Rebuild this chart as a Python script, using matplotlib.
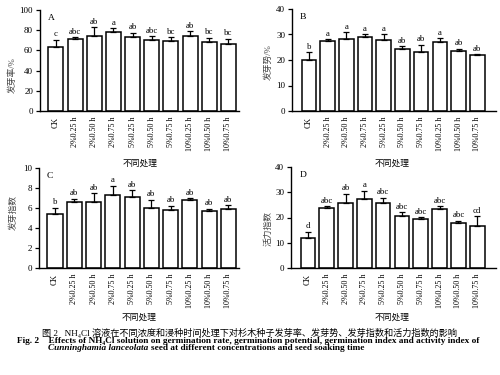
import matplotlib
matplotlib.use('Agg')
import matplotlib.pyplot as plt
import numpy as np

plt.rcParams['font.family'] = ['Liberation Serif', 'Noto Sans CJK SC', 'DejaVu Sans']
plt.rcParams['axes.unicode_minus'] = False

# 处理组
treatments = ['CK', '2%0.25 h', '2%0.50 h', '2%0.75 h', '5%0.25 h', '5%0.50 h',
              '5%0.75 h', '10%0.25 h', '10%0.50 h', '10%0.75 h']

# A 发芽率
rate_mean = [63.5, 71, 74, 78, 73, 70, 69, 74.5, 68, 66.5]
rate_err = [7, 2, 9, 4, 4.5, 4, 4, 4.5, 4.5, 5]
rate_sig = ['c', 'abc', 'ab', 'a', 'ab', 'abc', 'bc', 'ab', 'bc', 'bc']

# B 发芽势
pot_mean = [20, 27.5, 28.3, 29, 28, 24.3, 23, 27.2, 23.5, 22]
pot_err = [3, 0.7, 2.5, 1, 2, 1, 3, 1.3, 1, 0.3]
pot_sig = ['b', 'a', 'a', 'a', 'a', 'ab', 'ab', 'a', 'ab', 'ab']

# C 发芽指数
gi_mean = [5.45, 6.65, 6.6, 7.35, 7.1, 6.05, 5.85, 6.8, 5.75, 5.9]
gi_err = [0.6, 0.3, 0.9, 0.9, 0.7, 0.8, 0.4, 0.2, 0.2, 0.4]
gi_sig = ['b', 'ab', 'ab', 'a', 'ab', 'ab', 'ab', 'ab', 'ab', 'ab']

# D 活力指数
vi_mean = [11.8, 23.8, 25.6, 27.2, 25.6, 20.4, 19.5, 23.3, 17.8, 16.5]
vi_err = [2.5, 0.7, 3.8, 3.3, 2.2, 1.6, 0.6, 1.1, 1.0, 4.0]
vi_sig = ['d', 'abc', 'ab', 'a', 'abc', 'abc', 'abc', 'abc', 'abc', 'cd']

# (标签, y轴名, 均值, 误差, 显著性, y上限, 步长, 位置, xlim, ylabel坐标, xlabel位置)
panels = [
    ('A', '发芽率/%', rate_mean, rate_err, rate_sig, 100, 20,
     [0.080, 0.704, 0.398, 0.269], (-0.83, 9.55), (-0.115, 0.36), (0.280, 0.565)),
    ('B', '发芽势/%', pot_mean, pot_err, pot_sig, 40, 10,
     [0.584, 0.704, 0.408, 0.272], (-0.9, 10.0), (-0.095, 0.48), (0.784, 0.565)),
    ('C', '发芽指数', gi_mean, gi_err, gi_sig, 10, 2,
     [0.078, 0.285, 0.400, 0.267], (-0.83, 9.55), (-0.105, 0.56), (0.278, 0.152)),
    ('D', '活力指数', vi_mean, vi_err, vi_sig, 40, 10,
     [0.582, 0.285, 0.410, 0.270], (-0.9, 10.0), (-0.092, 0.39), (0.784, 0.152)),
]

fig = plt.figure(figsize=(5, 3.75), dpi=100)

for tag, ylab, mean, err, sig, ymax, step, pos, xl, ylc, xlp in panels:
    ax = fig.add_axes(pos)
    x = np.arange(len(treatments))
    ax.bar(x, mean, width=0.78, color='white', edgecolor='black', linewidth=1.1)
    ax.errorbar(x, mean, yerr=[np.zeros(len(err)), err], fmt='none',
                ecolor='black', elinewidth=0.9, capsize=2, capthick=0.9)
    for xi, m, e, s in zip(x, mean, err, sig):
        ax.text(xi, m + e + ymax * 0.015, s, ha='center', va='bottom', fontsize=6.3)
    ax.set_xlim(*xl)
    ax.set_ylim(0, ymax)
    ax.set_yticks(np.arange(0, ymax + 0.1, step))
    ax.set_xticks(x)
    ax.set_xticklabels(treatments, rotation=90, fontsize=5.8)
    ax.tick_params(axis='x', length=0, pad=4)
    ax.tick_params(axis='y', direction='out', length=3, width=0.9, labelsize=6.5, pad=2)
    for sp in ['top', 'right']:
        ax.spines[sp].set_visible(False)
    for sp in ['left', 'bottom']:
        ax.spines[sp].set_linewidth(1.0)
    ax.set_ylabel(ylab, fontsize=6.3, color='#444444')
    ax.yaxis.set_label_coords(*ylc)
    fig.text(xlp[0], xlp[1], '不同处理', ha='center', va='center', fontsize=6.3)
    ax.text(0.04, 0.92, tag, transform=ax.transAxes, fontsize=6.8, ha='left', va='center')

# 图题
fig.text(0.5, 0.112, '图 2   NH₄Cl 溶液在不同浓度和浸种时间处理下对杉木种子发芽率、发芽势、发芽指数和活力指数的影响',
         ha='center', va='center', fontsize=6.6)
fig.text(0.034, 0.091, 'Fig. 2    Effects of NH₄Cl solution on germination rate, germination potential, germination index and activity index of',
         ha='left', va='center', fontsize=6.7, fontweight='bold')
t_it = fig.text(0.096, 0.071, 'Cunninghamia lanceolata', ha='left', va='center',
                fontsize=6.7, fontweight='bold', style='italic')
fig.canvas.draw()
bb = t_it.get_window_extent().transformed(fig.transFigure.inverted())
fig.text(bb.x1 + 0.006, 0.071, 'seed at different concentrations and seed soaking time', ha='left', va='center',
         fontsize=6.7, fontweight='bold')

fig.savefig('out.png', dpi=100)
